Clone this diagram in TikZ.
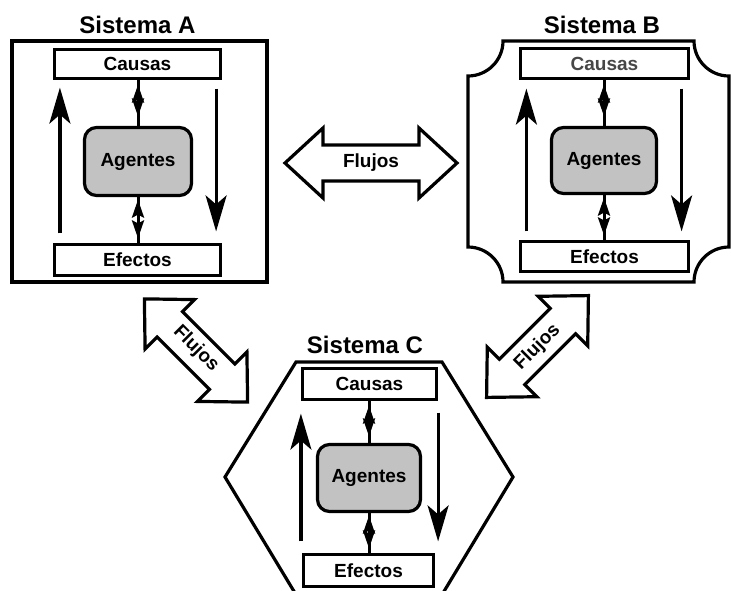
\documentclass[tikz,border=0pt]{standalone}
\usepackage{fontspec}
\setmainfont{Liberation Sans}
\usetikzlibrary{arrows.meta,calc}
\definecolor{agentgray}{RGB}{194,194,194}
\begin{document}
\begin{tikzpicture}[x=1pt,y=-1pt,
  frame/.style={line width=3.2pt,line join=miter},
  box/.style={draw,line width=3.2pt,inner sep=0pt,fill=white,font=\bfseries\fontsize{19}{21}\selectfont},
  agent/.style={box,fill=agentgray,rounded corners=12pt},
  title/.style={font=\bfseries\fontsize{24}{26}\selectfont,inner sep=0pt,anchor=base},
  bigarrow/.style={line width=3.2pt,-{Stealth[length=36pt,width=21pt,inset=9pt]}},
  plainline/.style={line width=3pt},
  sarrow/.style={line width=3pt,-{Stealth[length=18pt,width=12pt,inset=3pt]}},
  flow/.style={line width=3.2pt,fill=white,line join=miter},
  flowtext/.style={font=\bfseries\fontsize{19}{21}\selectfont,inner sep=0pt}
]
\useasboundingbox (0,0) rectangle (731,590);

% ---------------- Sistema A ----------------
\draw[frame] (12,41) rectangle (267,282);
\node[title] (tA) at (137.5,33) {Sistema A};
\node[box,minimum width=166pt,minimum height=29pt] (caA) at (137.5,64) {Causas};
\node[box,minimum width=166pt,minimum height=31pt] (efA) at (137.5,260) {Efectos};
\node[agent,minimum width=107pt,minimum height=68pt] (agA) at (138,161.5) {Agentes};
\coordinate (aL) at ([xshift=7pt]caA.south west);
\coordinate (aR) at ([xshift=-6pt]caA.south east);
\draw[bigarrow,shorten <=9.5pt,shorten >=7.5pt] (aL |- efA.north) -- (aL);
\draw[bigarrow,shorten <=8.5pt,shorten >=11.5pt] (aR) -- (aR |- efA.north);
\draw[plainline] (agA.north |- caA.south) -- (agA.north);
\coordinate (mA1) at ($(agA.north |- caA.south)!0.5!(agA.north)$);
\draw[sarrow,shorten >=4.5pt] ([yshift=-1pt]mA1) -- (agA.north |- caA.south);
\draw[sarrow,shorten >=9.5pt] ([yshift=1pt]mA1) -- (agA.north);
\draw[plainline] (agA.south) -- (agA.south |- efA.north);
\coordinate (mA2) at ($(agA.south)!0.5!(agA.south |- efA.north)$);
\draw[sarrow,shorten >=2.5pt] ([yshift=-1pt]mA2) -- (agA.south);
\draw[sarrow,shorten >=4.5pt] ([yshift=1pt]mA2) -- (agA.south |- efA.north);

% ---------------- Sistema B ----------------
\draw[frame] (503,41) -- (694,41)
  .. controls (694,60.3) and (709.7,76) .. (729,76)
  -- (729,247)
  .. controls (709.7,247) and (694,262.7) .. (694,282)
  -- (503,282)
  .. controls (503,262.7) and (487.3,247) .. (468,247)
  -- (468,76)
  .. controls (487.3,76) and (503,60.3) .. (503,41) -- cycle;
\node[title] (tB) at (602,33) {Sistema B};
\node[box,text=black!72,minimum width=168pt,minimum height=30pt] (caB) at (604.5,63.5) {Causas};
\node[box,minimum width=168pt,minimum height=30pt] (efB) at (604.5,256.5) {Efectos};
\node[agent,minimum width=105pt,minimum height=66pt] (agB) at (604,160.5) {Agentes};
\coordinate (bL) at ([xshift=7.5pt]caB.south west);
\coordinate (bR) at ([xshift=-8.5pt]caB.south east);
\draw[bigarrow,shorten <=8.5pt,shorten >=8.5pt] (bL |- efB.north) -- (bL);
\draw[bigarrow,shorten <=8.5pt,shorten >=8.5pt] (bR) -- (bR |- efB.north);
\draw[plainline] (agB.north |- caB.south) -- (agB.north);
\coordinate (mB1) at ($(agB.north |- caB.south)!0.5!(agB.north)$);
\draw[sarrow,shorten >=4.5pt] ([yshift=-1pt]mB1) -- (agB.north |- caB.south);
\draw[sarrow,shorten >=9.5pt] ([yshift=1pt]mB1) -- (agB.north);
\draw[plainline] (agB.south) -- (agB.south |- efB.north);
\coordinate (mB2) at ($(agB.south)!0.5!(agB.south |- efB.north)$);
\draw[sarrow,shorten >=2.5pt] ([yshift=-1pt]mB2) -- (agB.south);
\draw[sarrow,shorten >=4.5pt] ([yshift=1pt]mB2) -- (agB.south |- efB.north);

% ---------------- Sistema C ----------------
\draw[frame] (296,362) -- (442,362) -- (513,477) -- (443,593) -- (295,593) -- (225,477) -- cycle;
\node[title] (tC) at (365,353) {Sistema C};
\node[box,minimum width=134pt,minimum height=31pt] (caC) at (369.5,384) {Causas};
\node[box,minimum width=130pt,minimum height=32pt] (efC) at (368.5,570.5) {Efectos};
\node[agent,minimum width=103pt,minimum height=67pt] (agC) at (369,478) {Agentes};
\coordinate (cL) at ([xshift=0pt]caC.south west);
\coordinate (cR) at ([xshift=0pt]caC.south east);
\draw[bigarrow,shorten <=11.5pt,shorten >=12.5pt] (cL |- efC.north) -- (cL);
\draw[bigarrow,shorten <=11.5pt,shorten >=11.5pt] (cR) -- (cR |- efC.north);
\draw[plainline] (agC.north |- caC.south) -- (agC.north);
\coordinate (mC1) at ($(agC.north |- caC.south)!0.5!(agC.north)$);
\draw[sarrow,shorten >=4.5pt] ([yshift=-1pt]mC1) -- (agC.north |- caC.south);
\draw[sarrow,shorten >=6.5pt] ([yshift=1pt]mC1) -- (agC.north);
\draw[plainline] (agC.south) -- (agC.south |- efC.north);
\coordinate (mC2) at ($(agC.south)!0.5!(agC.south |- efC.north)$);
\draw[sarrow,shorten >=2.5pt] ([yshift=-1pt]mC2) -- (agC.south);
\draw[sarrow,shorten >=4.5pt] ([yshift=1pt]mC2) -- (agC.south |- efC.north);

% ---------------- Flujos ----------------
\begin{scope}[shift={(371,163)}]
  \draw[flow] (-86,0) -- (-48,-35) -- (-48,-18) -- (48,-18) -- (48,-35) -- (86,0)
    -- (48,35) -- (48,18) -- (-48,18) -- (-48,35) -- cycle;
\end{scope}
\node[flowtext] (fAB) at (371,163) {Flujos};

\begin{scope}[shift={(196,350.5)},rotate=-45]
  \draw[flow] (-73,0) -- (-37,-35) -- (-37,-18) -- (37,-18) -- (37,-35) -- (73,0)
    -- (37,35) -- (37,18) -- (-37,18) -- (-37,35) -- cycle;
\end{scope}
\node[flowtext,rotate=-45] (fAC) at (196,348.5) {Flujos};

\begin{scope}[shift={(537.5,346.5)},rotate=45]
  \draw[flow] (-72,0) -- (-36,-35) -- (-36,-18) -- (36,-18) -- (36,-35) -- (72,0)
    -- (36,35) -- (36,18) -- (-36,18) -- (-36,35) -- cycle;
\end{scope}
\node[flowtext,rotate=45] (fBC) at (537.5,347.5) {Flujos};
\end{tikzpicture}
\end{document}
